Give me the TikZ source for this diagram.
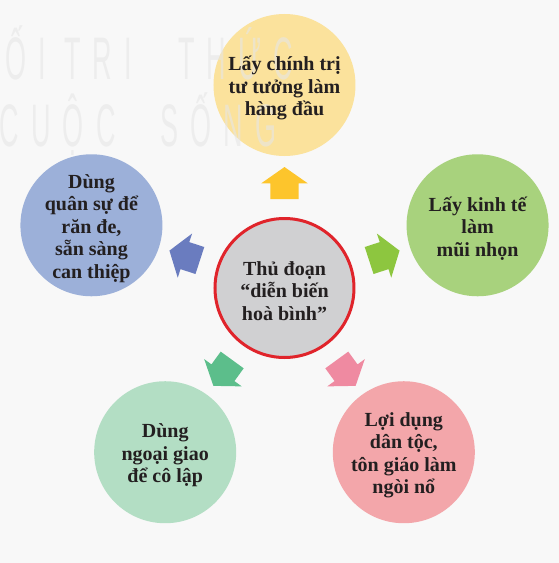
\documentclass[tikz,border=0pt]{standalone}
\usepackage{fontspec}
\setmainfont{Liberation Serif}
\newfontfamily\wmfont[LetterSpace=45]{Liberation Sans}
\usepackage[usenames]{xcolor}
\usepackage{tikz}
\usetikzlibrary{shapes.arrows}
\definecolor{bg_grey}{HTML}{F8F8F8}
\definecolor{wm_grey}{HTML}{E6E6E6}
\definecolor{ink}{HTML}{231F20}
\definecolor{core_grey}{HTML}{D0D0D2}
\definecolor{ring_red}{HTML}{E0242B}
\definecolor{yellow_soft}{HTML}{FBE29C}
\definecolor{yellow_deep}{HTML}{FDC52C}
\definecolor{lime_soft}{HTML}{A8D27D}
\definecolor{lime_deep}{HTML}{8DC63F}
\definecolor{pink_soft}{HTML}{F3A6AA}
\definecolor{pink_deep}{HTML}{EF8AA1}
\definecolor{mint_soft}{HTML}{B3DEC4}
\definecolor{mint_deep}{HTML}{5CBE8B}
\definecolor{blue_soft}{HTML}{9CB0D9}
\definecolor{blue_deep}{HTML}{6A7CBF}
\tikzset{my_diagram/.style={x=1pt,y=1pt}}
\tikzset{my_bubble/.style={circle, minimum size=142pt, inner sep=0pt}}
\tikzset{my_centre/.style={circle, minimum size=139pt, inner sep=0pt, line width=3pt, draw=ring_red, fill=core_grey}}
\tikzset{my_text/.style={align=center, text=ink, yshift=-3pt, font=\fontsize{20}{22.5}\selectfont\bfseries}}
\tikzset{my_arrow/.style={single arrow, inner xsep=0pt, inner ysep=14pt, minimum height=32pt, minimum width=46pt, single arrow head extend=9pt, single arrow tip angle=110}}
\tikzset{my_watermark/.style={anchor=base west, inner sep=0pt, text=wm_grey, text opacity=0.6, xscale=0.45, transform shape, font=\wmfont\fontsize{60}{60}\selectfont}}

\begin{document}
\begin{tikzpicture}[my_diagram]
    \path[use as bounding box, fill=bg_grey] (-284.5,-275) rectangle (274.5,288);
    %\draw[help lines, step=50] (-250,-250) grid (250,250);
    \node[my_centre] (core) at (0,0) {};
    \node[my_bubble, fill=yellow_soft] (top) at (90:203) {};
    \node[my_bubble, fill=lime_soft] (right) at (18:203) {};
    \node[my_bubble, fill=pink_soft] (lowright) at (-54:203) {};
    \node[my_bubble, fill=mint_soft] (lowleft) at (234:203) {};
    \node[my_bubble, fill=blue_soft] (left) at (162:203) {};

    % faint watermark, lies over the circles
    \node[my_watermark] (wm_oi) at (-279.5,208) {ỐI};
    \node[my_watermark] (wm_tri) at (-220.5,208) {TRI};
    \node[my_watermark] (wm_thuc) at (-106.5,208) {THỨC};
    \node[my_watermark] (wm_cuoc) at (-285,142) {CUỘC};
    \node[my_watermark] (wm_song) at (-124.5,142) {SỐNG};

    \node[my_arrow, fill=yellow_deep, rotate=90] (a_top) at (90:100) {};
    \node[my_arrow, fill=lime_deep, rotate=18] (a_right) at (18:100) {};
    \node[my_arrow, fill=pink_deep, rotate=-54] (a_lowright) at (-54:100) {};
    \node[my_arrow, fill=mint_deep, rotate=234] (a_lowleft) at (234:100) {};
    \node[my_arrow, fill=blue_deep, rotate=162] (a_left) at (162:100) {};

    \node[my_text] (core_text) at (core) {Thủ đoạn\\“diễn biến\\hoà bình”};
    \node[my_text] (top_text) at (top) {Lấy chính trị\\tư tưởng làm\\hàng đầu};
    \node[my_text] (right_text) at (right) {Lấy kinh tế\\làm\\mũi nhọn};
    \node[my_text] (lowright_text) at (lowright) {Lợi dụng\\dân tộc,\\tôn giáo làm\\ngòi nổ};
    \node[my_text] (lowleft_text) at (lowleft) {Dùng\\ngoại giao\\để cô lập};
    \node[my_text] (left_text) at (left) {Dùng\\quân sự để\\răn đe,\\sẵn sàng\\can thiệp};
\end{tikzpicture}
\end{document}
